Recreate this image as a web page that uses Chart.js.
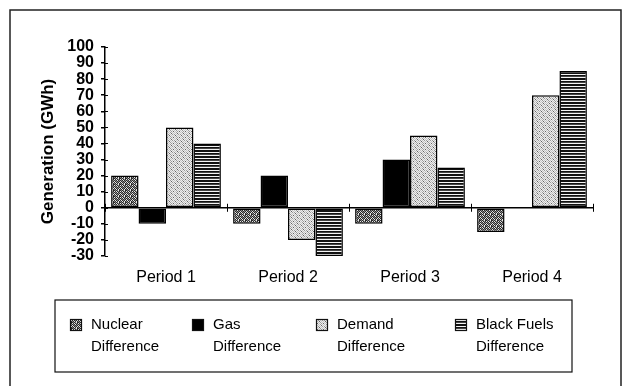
<!DOCTYPE html>
<html>
<head>
<meta charset="utf-8">
<script src="https://cdn.jsdelivr.net/npm/chart.js@4.4.1/dist/chart.umd.min.js"></script>
<style>
  html, body { margin: 0; padding: 0; background: #fff; }
  canvas { display: block; }
</style>
</head>
<body>
<canvas id="chart" width="627" height="386"></canvas>
<script>
// ---- data ----
const periods = ["Period 1", "Period 2", "Period 3", "Period 4"];
const nuclearDiff = [20, -10, -10, -15];
const gasDiff = [-10, 20, 30, 0];
const demandDiff = [50, -20, 45, 70];
const blackFuelsDiff = [40, -30, 25, 85];
const seriesLabels = [
    ["Nuclear", "Difference"],
    ["Gas", "Difference"],
    ["Demand", "Difference"],
    ["Black Fuels", "Difference"]
];
const yMin = -30, yMax = 100, yStep = 10;

const canvas = document.getElementById("chart");
const ctx = canvas.getContext("2d");

// small pixel tiles used as bar fills
function makePattern(rows, colours) {
    const tile = document.createElement("canvas");
    tile.width = rows[0].length;
    tile.height = rows.length;
    const g = tile.getContext("2d");
    rows.forEach((row, y) => {
        for (let x = 0; x < row.length; x++) {
            g.fillStyle = colours[row[x]];
            g.fillRect(x, y, 1, 1);
        }
    });
    return ctx.createPattern(tile, "repeat");
}

const nuclearFill = makePattern(
    ["#g#.#g", ".#g#g#", "#.#g#.", "g#.#.#", "#g#g.#", ".#.#g#"],
    { "#": "#2a2a2a", "g": "#8a8a8a", ".": "#e6e6e6" }
);
const demandFill = makePattern(
    ["l.g.l.", ".l.#.l", "g.l.g.", ".#.l.l", "l.g.l.", ".l.g.#"],
    { "#": "#666", "g": "#9a9a9a", "l": "#c4c4c4", ".": "#eeeeee" }
);
const blackFuelsFill = makePattern(
    ["#", "#", ".", "#", "d", "."],
    { "#": "#111", "d": "#444", ".": "#f4f4f4" }
);

const FONT = "'Liberation Sans', Arial, sans-serif";

// frame, zero-line ticks and two-line legend
const legendBox = { left: 55, top: 300, right: 572, bottom: 372 };
const legendItemX = [70, 192, 316, 455];

const decorations = {
    id: "decorations",
    afterDraw(chart) {
        const c = chart.ctx;
        const xs = chart.scales.x, ys = chart.scales.y;
        const y0 = ys.getPixelForValue(0);
        c.save();
        c.strokeStyle = "#000";
        c.lineWidth = 1;

        // category boundary ticks crossing the zero line
        const step = (xs.right - xs.left) / periods.length;
        for (let i = 0; i <= periods.length; i++) {
            const px = Math.round(xs.left + i * step) + 0.5;
            c.beginPath();
            c.moveTo(px, y0 - 4);
            c.lineTo(px, y0 + 4);
            c.stroke();
        }
        // inner half of the y tick marks
        ys.ticks.forEach(t => {
            const py = Math.round(ys.getPixelForValue(t.value)) + 0.5;
            c.beginPath();
            c.moveTo(ys.right, py);
            c.lineTo(ys.right + 3, py);
            c.stroke();
        });

        // outer frame
        c.lineWidth = 1.5;
        c.strokeStyle = "#222";
        c.beginPath();
        c.moveTo(10, 386);
        c.lineTo(10, 10);
        c.lineTo(621, 10);
        c.lineTo(621, 386);
        c.stroke();

        // legend
        c.lineWidth = 1.2;
        c.strokeStyle = "#111";
        c.strokeRect(legendBox.left, legendBox.top,
            legendBox.right - legendBox.left, legendBox.bottom - legendBox.top);
        c.font = "15px " + FONT;
        c.textBaseline = "middle";
        c.textAlign = "left";
        chart.data.datasets.forEach((ds, i) => {
            const sx = legendItemX[i];
            c.fillStyle = ds.backgroundColor;
            c.fillRect(sx, 319, 11, 11);
            c.strokeRect(sx + 0.5, 319.5, 11, 11);
            c.fillStyle = "#000";
            ds.legendLines.forEach((line, j) => {
                c.fillText(line, sx + 21, 325 + j * 22);
            });
        });
        c.restore();
    }
};

new Chart(ctx, {
    type: "bar",
    data: {
        labels: periods,
        datasets: [
            { label: "Nuclear Difference", legendLines: seriesLabels[0], data: nuclearDiff, backgroundColor: nuclearFill },
            { label: "Gas Difference", legendLines: seriesLabels[1], data: gasDiff, backgroundColor: "#000" },
            { label: "Demand Difference", legendLines: seriesLabels[2], data: demandDiff, backgroundColor: demandFill },
            { label: "Black Fuels Difference", legendLines: seriesLabels[3], data: blackFuelsDiff, backgroundColor: blackFuelsFill }
        ]
    },
    options: {
        responsive: false,
        animation: false,
        devicePixelRatio: 1,
        layout: { padding: { left: 0, top: 47, right: 34, bottom: 90 } },
        datasets: {
            bar: {
                borderColor: "#000",
                borderWidth: 1.5,
                borderSkipped: false,
                categoryPercentage: 0.9,
                barPercentage: 1
            }
        },
        plugins: {
            legend: { display: false },
            tooltip: { enabled: false }
        },
        scales: {
            x: {
                afterFit: s => { s.height = 40; },
                grid: { display: false, drawTicks: false },
                border: { display: false },
                ticks: { color: "#000", padding: 12, font: { family: FONT, size: 16 } }
            },
            y: {
                min: yMin,
                max: yMax,
                afterFit: s => { s.width = 105; },
                ticks: {
                    stepSize: yStep,
                    autoSkip: false,
                    color: "#000",
                    padding: 7,
                    font: { family: FONT, size: 16, weight: "bold" }
                },
                grid: {
                    color: c => (c.tick && c.tick.value === 0) ? "#000" : "rgba(0,0,0,0)",
                    lineWidth: 1.5,
                    tickColor: "#000",
                    tickLength: 4
                },
                border: { display: true, color: "#000", width: 1.5 },
                title: {
                    display: true,
                    text: "Generation (GWh)",
                    color: "#000",
                    padding: { top: 38, bottom: 0 },
                    font: { family: FONT, size: 17, weight: "bold" }
                }
            }
        }
    },
    plugins: [decorations]
});
</script>
</body>
</html>
